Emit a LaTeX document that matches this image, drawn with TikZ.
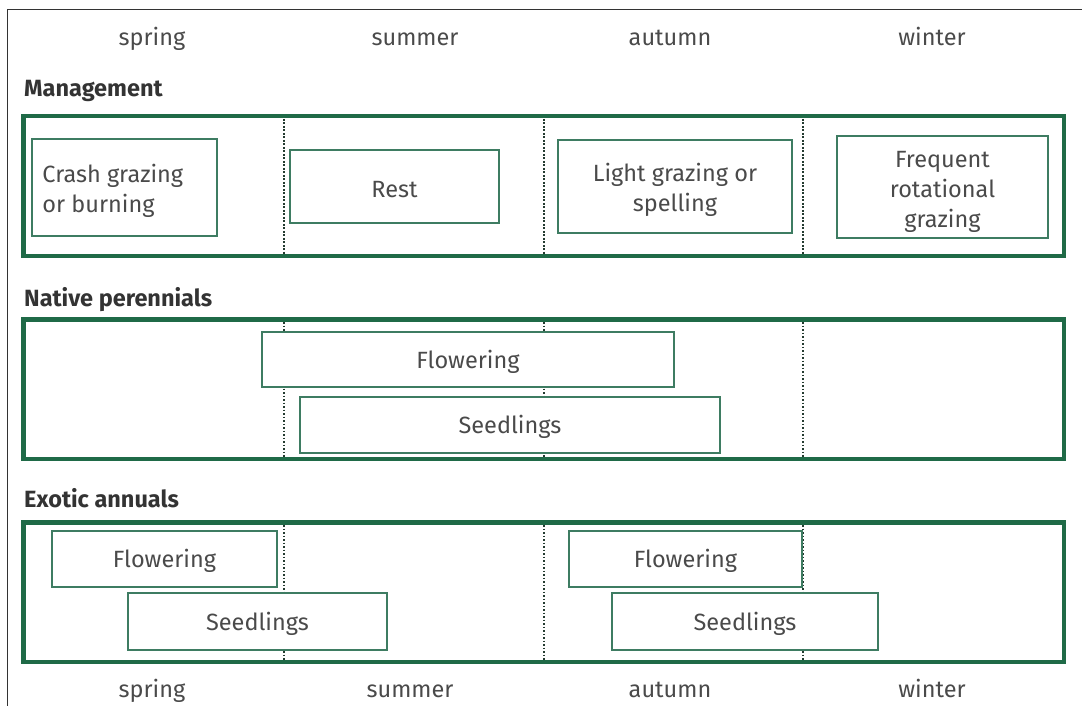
\documentclass[tikz,border=0pt]{standalone}
\usepackage{fontspec}
\setmainfont{Fira Sans}
\definecolor{bandgreen}{HTML}{1F6A47}
\definecolor{boxgreen}{HTML}{3E7C62}
\definecolor{txtgray}{HTML}{4A4A4A}
\definecolor{divgray}{HTML}{243B30}
\begin{document}
\begin{tikzpicture}[x=1pt,y=-1pt,
  every node/.style={text=txtgray, font=\fontsize{23.5}{30}\selectfont},
  band/.style={draw=bandgreen, line width=3pt, fill=white,
    minimum width=1039pt, minimum height=138pt, inner sep=0pt},
  box/.style={draw=boxgreen, line width=1.5pt, fill=white, inner sep=0pt},
  boxtext/.style={inner sep=0pt, align=center, yshift=-3.5pt},
  divider/.style={draw=divgray, line width=2pt, dash pattern=on 1.6pt off 1.9pt},
  season/.style={anchor=base, inner sep=0pt},
  title/.style={anchor=base west, inner sep=0pt, font=\fontsize{23.5}{28}\selectfont\bfseries, text=black!80}]
\useasboundingbox (0,0) rectangle (1082,706);

% page frame (left and top rules)
\coordinate (fa) at (7.5,706);
\coordinate (fb) at (7.5,9.5);
\coordinate (fc) at (1082,9.5);
\draw[line width=1.2pt, black!80] (fa) -- (fb) -- (fc);

% season headings
\node[season] (sp1) at (152,46) {spring};
\node[season] (su1) at (415,46) {summer};
\node[season] (au1) at (670,46) {autumn};
\node[season] (wi1) at (932,46) {winter};
\node[season] (sp2) at (152,697) {spring};
\node[season] (su2) at (410,697) {summer};
\node[season] (au2) at (670,697) {autumn};
\node[season] (wi2) at (932,697) {winter};

% section titles
\node[title] (tm) at (24,97) {Management};
\node[title] (tn) at (24,306) {Native perennials};
\node[title] (te) at (24,507) {Exotic annuals};

% bands
\node[band] (mgmt) at (543.5,186) {};
\node[band] (nat) at (543.5,389) {};
\node[band] (exo) at (543.5,592) {};

% season dividers
\coordinate (d1) at (284,0);
\coordinate (d2) at (544,0);
\coordinate (d3) at (803,0);
\foreach \b in {mgmt,nat,exo}{
  \foreach \d in {d1,d2,d3}{
    \draw[divider] (\b.north -| \d) -- (\b.south -| \d);
  }
}
\foreach \b in {mgmt,nat,exo}{
  \draw[draw=bandgreen, line width=3pt] (\b.north west) rectangle (\b.south east);
}

% management boxes
\node[box, minimum width=185pt, minimum height=97pt] (crash) at (124.5,187.5) {};
\node[boxtext, anchor=west, align=left, xshift=11pt] (crashT) at (crash.west) {Crash grazing\\or burning};
\node[box, minimum width=209pt, minimum height=73pt] (rest) at (394.5,186.5) {};
\node[boxtext] (restT) at (rest.center) {Rest};
\node[box, minimum width=234pt, minimum height=93pt] (light) at (675,186.5) {};
\node[boxtext] (lightT) at (light.center) {Light grazing or\\spelling};
\node[box, minimum width=211pt, minimum height=102pt] (freq) at (942.5,187) {};
\node[boxtext, yshift=-1.5pt] (freqT) at (freq.center) {Frequent\\rotational\\grazing};

% native perennials
\node[box, minimum width=412pt, minimum height=55pt] (nflow) at (468,359.5) {};
\node[boxtext, yshift=1.5pt] (nflowT) at (nflow.center) {Flowering};
\node[box, minimum width=420pt, minimum height=56pt] (nseed) at (510,425) {};
\node[boxtext, yshift=1.5pt] (nseedT) at (nseed.center) {Seedlings};

% exotic annuals
\node[box, minimum width=225pt, minimum height=56pt] (eflow1) at (164.5,559) {};
\node[boxtext, yshift=1.5pt] (eflow1T) at (eflow1.center) {Flowering};
\node[box, minimum width=259pt, minimum height=57pt] (eseed1) at (257.5,621.5) {};
\node[boxtext, yshift=1.5pt] (eseed1T) at (eseed1.center) {Seedlings};
\node[box, minimum width=233pt, minimum height=56pt] (eflow2) at (685.5,559) {};
\node[boxtext, yshift=1.5pt] (eflow2T) at (eflow2.center) {Flowering};
\node[box, minimum width=266pt, minimum height=57pt] (eseed2) at (745,621.5) {};
\node[boxtext, yshift=1.5pt] (eseed2T) at (eseed2.center) {Seedlings};
\end{tikzpicture}
\end{document}
